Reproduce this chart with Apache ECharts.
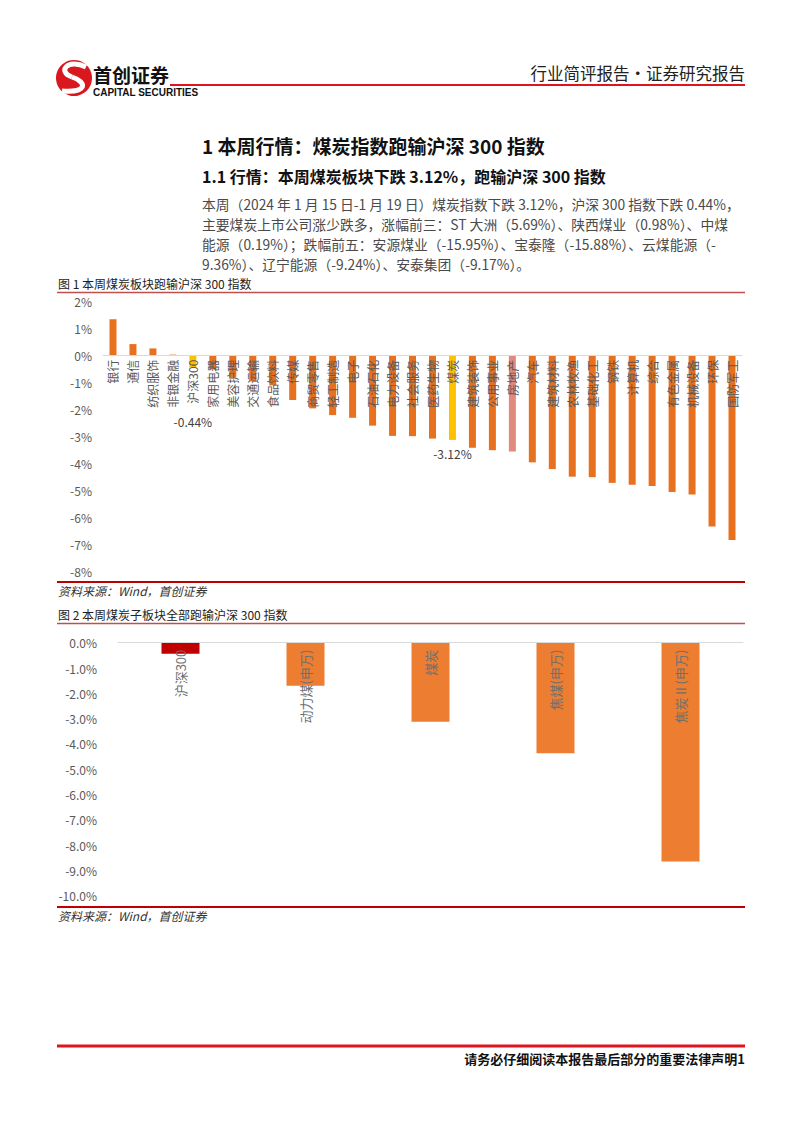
<!DOCTYPE html>
<html>
<head>
<meta charset="utf-8">
<script src="https://cdn.jsdelivr.net/npm/echarts@6/dist/echarts.min.js"></script>
<style>
html,body{margin:0;padding:0;background:#fff;}
#page{width:802px;height:1133px;}
</style>
</head>
<body>
<div id="page"></div>
<script>
// ---------- Figure 1 data ----------
const industries = ['银行','通信','纺织服饰','非银金融','沪深300','家用电器','美容护理','交通运输','食品饮料','传媒','商贸零售','轻工制造','电子','石油石化','电力设备','社会服务','医药生物','煤炭','建筑装饰','公用事业','房地产','汽车','建筑材料','农林牧渔','基础化工','钢铁','计算机','综合','有色金属','机械设备','环保','国防军工'];
const industryChange = [1.35,0.43,0.27,0.04,-0.44,-0.50,-0.80,-0.95,-1.10,-1.64,-1.95,-2.20,-2.30,-2.59,-2.97,-2.98,-3.07,-3.12,-3.41,-3.50,-3.55,-3.95,-4.20,-4.48,-4.50,-4.71,-4.78,-4.83,-5.05,-5.14,-6.33,-6.83];
const fig1Ticks = ['2%','1%','0%','-1%','-2%','-3%','-4%','-5%','-6%','-7%','-8%'];

// ---------- Figure 2 data ----------
const subSectors = ['沪深300','动力煤(申万)','煤炭','焦煤(申万)','焦炭Ⅱ(申万)'];
const subChange = [-0.44,-1.70,-3.12,-4.37,-8.65];
const fig2Ticks = ['0.0%','-1.0%','-2.0%','-3.0%','-4.0%','-5.0%','-6.0%','-7.0%','-8.0%','-9.0%','-10.0%'];

// ---------- styles ----------
const fig1Colors = {'沪深300':'#FFC000','煤炭':'#FFC000','房地产':'#E0897C'};
const fig1Default = '#E8711F';
const fig2Colors = {'沪深300':'#C00000'};
const fig2Default = '#ED7D31';
const fig1Labeled = {'沪深300':48,'煤炭':8};

const CJK = '"Noto Sans CJK SC", "Liberation Sans", sans-serif';

// grid geometry (pixels)
const G1 = {left:103, top:301.7, width:639, height:270};
const G2 = {left:118, top:642.7, width:625, height:253};
const Y1 = {min:-8, max:2};
const Y2 = {min:-10, max:0};
// shift the category axis from the grid bottom up to the zero line
const off1 = -G1.height * (0 - Y1.min) / (Y1.max - Y1.min);
const off2 = -G2.height * (0 - Y2.min) / (Y2.max - Y2.min);

const chart = echarts.init(document.getElementById('page'), null, {renderer:'svg', width:802, height:1133});

function txt(x, y, s, size, opt) {
  opt = opt || {};
  const el = {type:'text', top: y - size/2 - 1, silent:true,
    style:{text:s, fontSize:size, fontFamily:opt.font||CJK, fontWeight:opt.bold?'bold':'normal', fontStyle:opt.italic?'italic':'normal', fill:opt.color||'#222'}};
  if (opt.align === 'right') el.right = 802 - x; else el.left = x;
  return el;
}
function hline(x1, x2, y, color, w) {
  return {type:'line', silent:true, shape:{x1:x1,y1:y,x2:x2,y2:y}, style:{stroke:color, lineWidth:w}};
}

const para = [
  '本周（2024 年 1 月 15 日-1 月 19 日）煤炭指数下跌 3.12%，沪深 300 指数下跌 0.44%，',
  '主要煤炭上市公司涨少跌多，涨幅前三：ST 大洲（5.69%）、陕西煤业（0.98%）、中煤',
  '能源（0.19%）；跌幅前五：安源煤业（-15.95%）、宝泰隆（-15.88%）、云煤能源（-',
  '9.36%）、辽宁能源（-9.24%）、安泰集团（-9.17%）。'
];
const paraY = [205, 225, 245, 265];

const graphics = [
  // logo
  {type:'circle', silent:true, shape:{cx:74, cy:78, r:18}, style:{fill:'#D9171E'}},
  {type:'bezierCurve', silent:true, shape:{x1:86, y1:67, cpx1:67, cpy1:58, cpx2:57, cpy2:72, x2:72, y2:77}, style:{stroke:'#fff', lineWidth:5, fill:null}},
  {type:'bezierCurve', silent:true, shape:{x1:72, y1:77, cpx1:87, cpy1:82, cpx2:88, cpy2:93, x2:62, y2:91}, style:{stroke:'#fff', lineWidth:5, fill:null}},
  txt(93, 75, '首创证券', 19, {bold:true, color:'#111'}),
  txt(93, 93, 'CAPITAL SECURITIES', 10, {bold:true, color:'#111', font:'"Liberation Sans", Arial, sans-serif'}),
  hline(170, 745, 85, '#E0141E', 2),
  txt(745, 74, '行业简评报告·证券研究报告', 16.5, {align:'right', color:'#222'}),
  // headings
  txt(202, 146, '1 本周行情：煤炭指数跑输沪深 300 指数', 19, {bold:true, color:'#111'}),
  txt(202, 177, '1.1 行情：本周煤炭板块下跌 3.12%，跑输沪深 300 指数', 16, {bold:true, color:'#111'}),
  // figure 1 frame
  txt(58, 284, '图 1 本周煤炭板块跑输沪深 300 指数', 12, {color:'#222'}),
  hline(57, 745, 292.5, '#C0504D', 1.5),
  hline(57, 745, 582, '#C00000', 2),
  txt(58, 591, '资料来源：Wind，首创证券', 12, {italic:true, color:'#333'}),
  // figure 2 frame
  txt(58, 615, '图 2 本周煤炭子板块全部跑输沪深 300 指数', 12, {color:'#222'}),
  hline(57, 745, 623.5, '#C0504D', 1.5),
  hline(57, 745, 907, '#C00000', 2),
  txt(58, 916, '资料来源：Wind，首创证券', 12, {italic:true, color:'#333'}),
  // footer
  hline(57, 745, 1046, '#E0141E', 3),
  txt(745, 1059, '请务必仔细阅读本报告最后部分的重要法律声明1', 13, {align:'right', bold:true, color:'#111'})
];
para.forEach((l, i) => graphics.push(txt(202, paraY[i], l, 13.8, {color:'#4a4a4a'})));

const fig1Data = industryChange.map((v, i) => {
  const name = industries[i];
  const item = {value:v, itemStyle:{color: fig1Colors[name] || fig1Default}};
  if (fig1Labeled[name] !== undefined) {
    item.label = {show:true, position:'bottom', distance:fig1Labeled[name], formatter: p => p.value.toFixed(2) + '%', color:'#404040', fontSize:12, fontFamily:CJK};
  }
  return item;
});
const fig2Data = subChange.map((v, i) => ({value:v, itemStyle:{color: fig2Colors[subSectors[i]] || fig2Default}}));

chart.setOption({
  animation:false,
  graphic: graphics,
  grid:[
    {left:G1.left, top:G1.top, width:G1.width, height:G1.height},
    {left:G2.left, top:G2.top, width:G2.width, height:G2.height}
  ],
  xAxis:[
    {type:'category', gridIndex:0, data:industries, position:'bottom', offset:off1, z:10,
     axisLine:{onZero:false, lineStyle:{color:'#D9D9D9', width:1}},
     axisTick:{show:false},
     axisLabel:{interval:0, rotate:90, margin:4, color:'#595959', fontSize:12, fontFamily:CJK}},
    {type:'category', gridIndex:1, data:subSectors, position:'bottom', offset:off2, z:10,
     axisLine:{onZero:false, lineStyle:{color:'#D9D9D9', width:1}},
     axisTick:{show:false},
     axisLabel:{interval:0, rotate:90, margin:7, color:'#6F6F6F', fontSize:13, fontFamily:CJK}}
  ],
  yAxis:[
    {type:'value', gridIndex:0, min:Y1.min, max:Y1.max, interval:1,
     splitLine:{show:false}, axisLine:{show:false}, axisTick:{show:false},
     axisLabel:{margin:11, color:'#595959', fontSize:12, fontFamily:CJK,
       formatter: v => fig1Ticks[Math.round(Y1.max - v)]}},
    {type:'value', gridIndex:1, min:Y2.min, max:Y2.max, interval:1,
     splitLine:{show:false}, axisLine:{show:false}, axisTick:{show:false},
     axisLabel:{margin:21, color:'#595959', fontSize:12, fontFamily:CJK,
       formatter: v => fig2Ticks[Math.round(Y2.max - v)]}}
  ],
  series:[
    {type:'bar', xAxisIndex:0, yAxisIndex:0, data:fig1Data, barWidth:7},
    {type:'bar', xAxisIndex:1, yAxisIndex:1, data:fig2Data, barWidth:38}
  ]
});
</script>
</body>
</html>
